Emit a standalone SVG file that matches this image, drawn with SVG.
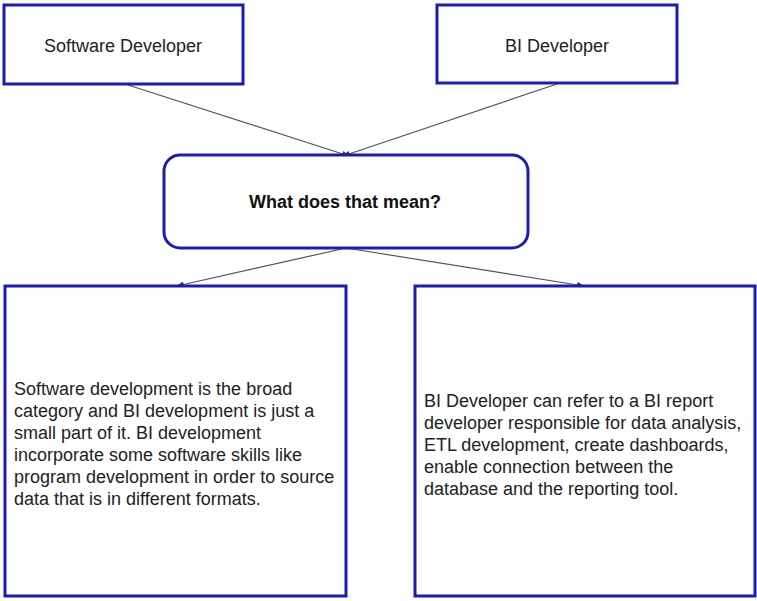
<svg xmlns="http://www.w3.org/2000/svg" width="757" height="601" viewBox="0 0 757 601">
<style>
.box{fill:#fff;stroke:#1c1cb4;stroke-width:3}
.t{font-family:"Liberation Sans",Arial,sans-serif;font-size:18px;fill:#222}
.c{text-anchor:middle}
.b{font-weight:bold;fill:#111}
.conn{stroke:#555;stroke-width:1.2;fill:none;marker-end:url(#ah)}
</style>
<defs>
<marker id="ah" markerWidth="8" markerHeight="6" refX="7" refY="3" orient="auto" markerUnits="userSpaceOnUse">
<path d="M0,0 L8,3 L0,6 Z" fill="#333"/>
</marker>
</defs>
<rect width="757" height="601" fill="#fff"/>
<g id="connectors">
<line class="conn" x1="125" y1="84" x2="349" y2="156"/>
<line class="conn" x1="557" y1="84" x2="343" y2="156"/>
<line class="conn" x1="346" y1="248" x2="177" y2="286"/>
<line class="conn" x1="346" y1="248" x2="584" y2="286"/>
</g>
<g id="software-developer">
<rect class="box" x="4" y="5" width="239" height="79"/>
<text class="t c" x="123" y="52">Software Developer</text>
</g>
<g id="bi-developer">
<rect class="box" x="437" y="5" width="240" height="78"/>
<text class="t c" x="557" y="52">BI Developer</text>
</g>
<g id="what-does-that-mean">
<rect class="box" x="164" y="155" width="364" height="93" rx="16" ry="16"/>
<text class="t c b" x="345" y="208">What does that mean?</text>
</g>
<g id="software-development-text">
<rect class="box" x="5" y="286" width="341" height="310"/>
<text class="t" x="14" y="395">Software development is the broad</text>
<text class="t" x="14" y="417">category and BI development is just a</text>
<text class="t" x="14" y="439">small part of it. BI development</text>
<text class="t" x="14" y="461">incorporate some software skills like</text>
<text class="t" x="14" y="483">program development in order to source</text>
<text class="t" x="14" y="505">data that is in different formats.</text>
</g>
<g id="bi-developer-text">
<rect class="box" x="415" y="286" width="340" height="310"/>
<text class="t" x="424" y="407">BI Developer can refer to a BI report</text>
<text class="t" x="424" y="429">developer responsible for data analysis,</text>
<text class="t" x="424" y="451">ETL development, create dashboards,</text>
<text class="t" x="424" y="473">enable connection between the</text>
<text class="t" x="424" y="495">database and the reporting tool.</text>
</g>
</svg>
